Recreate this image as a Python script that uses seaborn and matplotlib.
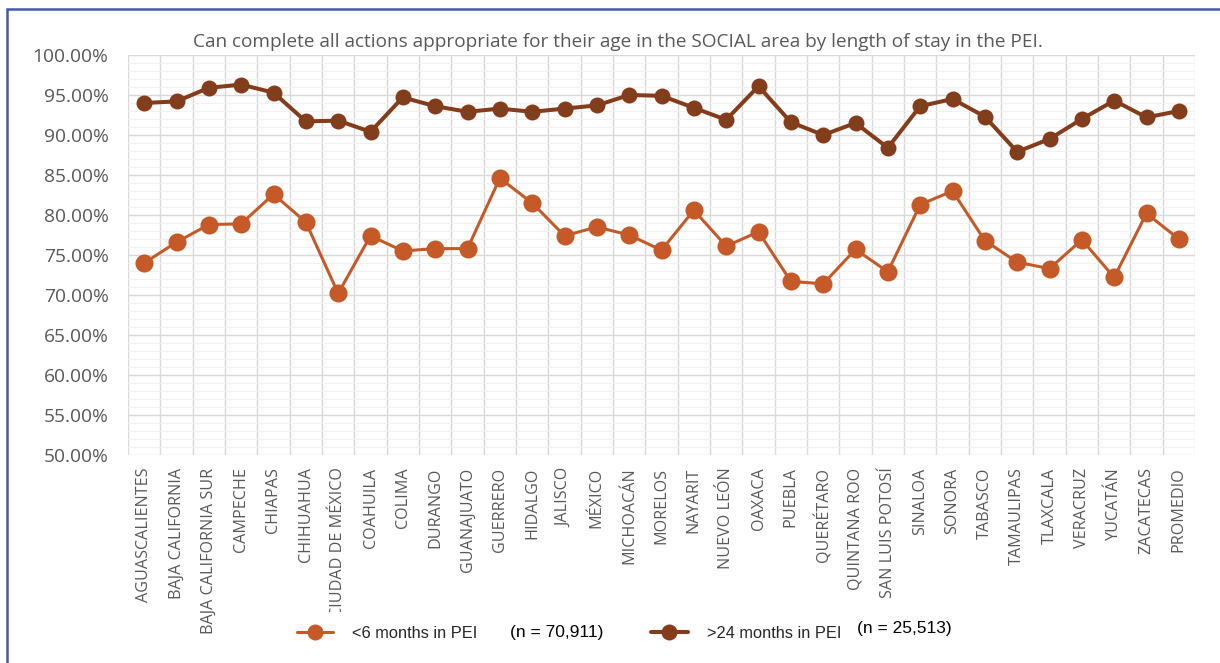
import matplotlib
matplotlib.use("Agg")
import matplotlib.pyplot as plt
import numpy as np
import pandas as pd
import seaborn as sns
from matplotlib.ticker import MultipleLocator, FixedLocator, FuncFormatter
from matplotlib.lines import Line2D
from matplotlib.patches import Rectangle

# ---- data -------------------------------------------------------------
states = [
    "AGUASCALIENTES", "BAJA CALIFORNIA", "BAJA CALIFORNIA SUR", "CAMPECHE",
    "CHIAPAS", "CHIHUAHUA", "CIUDAD DE MÉXICO", "COAHUILA", "COLIMA",
    "DURANGO", "GUANAJUATO", "GUERRERO", "HIDALGO", "JALISCO", "MÉXICO",
    "MICHOACÁN", "MORELOS", "NAYARIT", "NUEVO LEÓN", "OAXACA", "PUEBLA",
    "QUERÉTARO", "QUINTANA ROO", "SAN LUIS POTOSÍ", "SINALOA", "SONORA",
    "TABASCO", "TAMAULIPAS", "TLAXCALA", "VERACRUZ", "YUCATÁN", "ZACATECAS",
    "PROMEDIO",
]

# percentage of children, less than 6 months in PEI
short_stay = [
    74.0, 76.6, 78.8, 78.9, 82.6, 79.1, 70.2, 77.4, 75.5, 75.8, 75.8, 84.6,
    81.5, 77.4, 78.5, 77.5, 75.6, 80.6, 76.1, 77.9, 71.7, 71.4, 75.7, 72.9,
    81.3, 83.0, 76.8, 74.1, 73.3, 76.9, 72.2, 80.2, 77.0,
]

# percentage of children, more than 24 months in PEI
long_stay = [
    94.0, 94.2, 95.9, 96.3, 95.3, 91.7, 91.8, 90.4, 94.7, 93.6, 92.9, 93.3,
    92.9, 93.3, 93.7, 95.0, 94.9, 93.4, 91.9, 96.1, 91.6, 90.0, 91.5, 88.4,
    93.6, 94.5, 92.3, 87.9, 89.5, 92.0, 94.3, 92.2, 93.0,
]

series_labels = ["<6 months in PEI", ">24 months in PEI"]
series_n = ["(n = 70,911)", "(n = 25,513)"]
title = "Can complete all actions appropriate for their age in the SOCIAL area by length of stay in the PEI."

# ---- styling ----------------------------------------------------------
ORANGE = "#C55A28"
BROWN = "#843C1B"
GRID_MAJOR = "#D9D9D9"
GRID_MINOR = "#F2F2F2"
TEXT_GREY = "#595959"

sns.set_theme(style="white")
plt.rcParams["font.family"] = ["Open Sans", "DejaVu Sans"]

W, H = 1220, 663
fig = plt.figure(figsize=(W / 100, H / 100), dpi=100)
fig.patch.set_facecolor("white")

# plot area in pixel coordinates
left, right, top, bottom = 128, 1195, 55, 455
ax = fig.add_axes([left / W, 1 - bottom / H, (right - left) / W, (bottom - top) / H])

pos = np.arange(len(states))
df_short = pd.DataFrame({"pos": pos, "pct": short_stay})
df_long = pd.DataFrame({"pos": pos, "pct": long_stay})

sns.lineplot(data=df_short, x="pos", y="pct", color=ORANGE, linewidth=2.2,
             marker="o", markersize=13, markeredgewidth=0, sort=False,
             ax=ax, zorder=3)
sns.lineplot(data=df_long, x="pos", y="pct", color=BROWN, linewidth=2.9,
             marker="o", markersize=11.5, markeredgewidth=0, sort=False,
             ax=ax, zorder=3)
# small centre dot on the long-stay markers
sns.scatterplot(data=df_long, x="pos", y="pct", color="#2F6B2F", s=2,
                linewidth=0, ax=ax, zorder=4)

ax.set_xlim(-0.5, len(states) - 0.5)
ax.set_ylim(50, 100)

# y axis: major every 5 %, minor every 1 %
ax.yaxis.set_major_locator(MultipleLocator(5))
ax.yaxis.set_minor_locator(MultipleLocator(1))
ax.yaxis.set_major_formatter(FuncFormatter(lambda v, _: f"{v:.2f}%"))
ax.grid(which="major", axis="y", color=GRID_MAJOR, linewidth=1.0, zorder=0)
ax.grid(which="minor", axis="y", color=GRID_MINOR, linewidth=0.8, zorder=0)

# x axis: labels at category centres, grid lines at category boundaries
ax.xaxis.set_major_locator(FixedLocator(pos))
ax.set_xticklabels(states, rotation=90, va="top", ha="center")
ax.xaxis.set_minor_locator(FixedLocator(np.arange(-0.5, len(states), 1.0)))
ax.grid(which="minor", axis="x", color=GRID_MAJOR, linewidth=1.0, zorder=0)
ax.set_axisbelow(True)

ax.tick_params(axis="y", which="both", length=0, pad=14, labelsize=13.8,
               labelcolor=TEXT_GREY)
ax.tick_params(axis="x", which="major", length=0, pad=9, labelsize=11.6,
               labelcolor=TEXT_GREY)
ax.tick_params(axis="x", which="minor", length=4, width=1, color=GRID_MAJOR)

for s in ax.spines.values():
    s.set_visible(False)
ax.set_xlabel("")
ax.set_ylabel("")

# the long CIUDAD DE MÉXICO label is cut off at the bottom of the label band
label_band = Rectangle((0, (H - 612) / H), 1, 612 / H,
                       transform=fig.transFigure, facecolor="none",
                       edgecolor="none")
fig.add_artist(label_band)
for tick in ax.xaxis.get_major_ticks():
    if tick.label1.get_text() == "CIUDAD DE MÉXICO":
        tick.label1.set_clip_on(True)
        tick.label1.set_clip_path(label_band)

# title
fig.text(618 / W, 1 - 42 / H, title, ha="center", va="center",
         fontsize=13.7, color=TEXT_GREY)

# legend
handles = [
    Line2D([], [], color=ORANGE, linewidth=2.2, marker="o", markersize=11.5,
           markeredgewidth=0),
    Line2D([], [], color=BROWN, linewidth=2.9, marker="o", markersize=11.5,
           markeredgewidth=0),
]
fig.legend(handles, series_labels, loc="center left",
           bbox_to_anchor=(282 / W, 1 - 633 / H), ncol=2, frameon=False,
           handlelength=2.2, handletextpad=1.2, columnspacing=10.6,
           prop={"family": "Liberation Sans", "size": 11.8})
fig.text(510 / W, 1 - 633 / H, series_n[0], ha="left", va="center",
         fontsize=12.5, family="Liberation Sans", color="black")
fig.text(857 / W, 1 - 628 / H, series_n[1], ha="left", va="center",
         fontsize=12.5, family="Liberation Sans", color="black")

# outer frame (left and top edges visible)
fig.add_artist(Rectangle((7 / W, -0.05), 1.1, 1 - 9 / H + 0.05,
                         transform=fig.transFigure, fill=False,
                         edgecolor="#4657A8", linewidth=1.8))

fig.savefig("out.png", dpi=100, facecolor="white")
